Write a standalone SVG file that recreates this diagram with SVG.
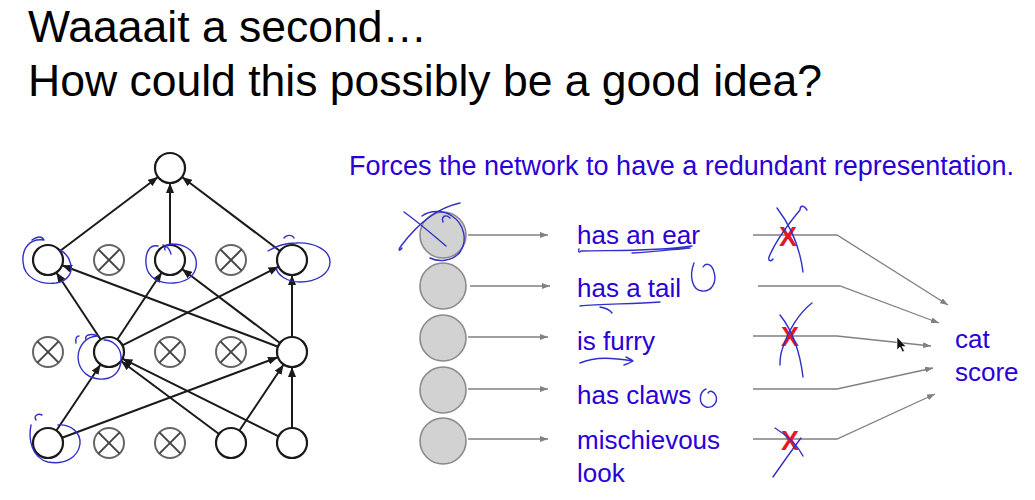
<svg xmlns="http://www.w3.org/2000/svg" width="1035" height="500" viewBox="0 0 1035 500">
  <defs>
    <marker id="netArrow" markerWidth="10" markerHeight="8" refX="10" refY="4" orient="auto" markerUnits="userSpaceOnUse">
      <path d="M0,0 L10,4 L0,8 Z" fill="#1a1a1a"/>
    </marker>
    <marker id="thinArrow" markerWidth="8" markerHeight="6" refX="8" refY="3" orient="auto" markerUnits="userSpaceOnUse">
      <path d="M0,0 L8,3 L0,6 Z" fill="#808080"/>
    </marker>
    <style>
      .title { font-family: "Liberation Sans", Arial, sans-serif; font-size: 44.5px; fill: #000; }
      .blue { font-family: "Liberation Sans", Arial, sans-serif; fill: #2a00d6; }
      .sub { font-size: 27px; }
      .lbl { font-size: 26px; }
      .unit { fill: #fff; stroke: #1a1a1a; stroke-width: 2.2; }
      .drop circle { fill: #fff; stroke: #666; stroke-width: 2; }
      .drop line { stroke: #444; stroke-width: 2; }
      .feat { fill: #d2d2d2; stroke: #8a8a8a; stroke-width: 1.6; }
      .edge { stroke: #1a1a1a; stroke-width: 2; fill: none; marker-end: url(#netArrow); }
      .thin { stroke: #808080; stroke-width: 1.3; fill: none; marker-end: url(#thinArrow); }
      .ink { stroke: #3030c8; stroke-width: 1.4; fill: none; stroke-linecap: round; stroke-linejoin: round; }
      .cross { font-family: "Liberation Sans", Arial, sans-serif; font-weight: bold; font-size: 27px; fill: #e8142a; text-anchor: middle; }
    </style>
  </defs>

  <!-- heading -->
  <text class="title" x="28" y="42">Waaaait a second…</text>
  <text class="title" x="28" y="96">How could this possibly be a good idea?</text>

  <!-- network connectors -->
  <g id="net-edges">
    <line class="edge" x1="60" y1="251" x2="158" y2="177"/>
    <line class="edge" x1="170" y1="245" x2="170" y2="183"/>
    <line class="edge" x1="280" y1="251" x2="182" y2="177"/>
    <line class="edge" x1="100.7" y1="339.5" x2="56.3" y2="272.5"/>
    <line class="edge" x1="278" y1="346.7" x2="62" y2="265.3"/>
    <line class="edge" x1="117.3" y1="339.5" x2="161.7" y2="272.5"/>
    <line class="edge" x1="280" y1="343" x2="182" y2="269"/>
    <line class="edge" x1="122.4" y1="345.3" x2="278.6" y2="266.7"/>
    <line class="edge" x1="292" y1="337" x2="292" y2="275"/>
    <line class="edge" x1="56.4" y1="430.5" x2="100.6" y2="364.5"/>
    <line class="edge" x1="219" y1="434" x2="121" y2="361"/>
    <line class="edge" x1="278.6" y1="436.3" x2="122.4" y2="358.7"/>
    <line class="edge" x1="62.1" y1="437.8" x2="277.9" y2="357.2"/>
    <line class="edge" x1="239.4" y1="430.5" x2="283.6" y2="364.5"/>
    <line class="edge" x1="292" y1="428" x2="292" y2="367"/>
  </g>

  <!-- network units -->
  <g id="out"><circle class="unit" cx="170" cy="168" r="15"/></g>
  <g id="h2-1"><circle class="unit" cx="48" cy="260" r="15"/></g>
  <g id="h2-2" class="drop"><circle cx="109" cy="260" r="15"/><line x1="98.4" y1="249.4" x2="119.6" y2="270.6"/><line x1="119.6" y1="249.4" x2="98.4" y2="270.6"/></g>
  <g id="h2-3"><circle class="unit" cx="170" cy="260" r="15"/></g>
  <g id="h2-4" class="drop"><circle cx="231" cy="260" r="15"/><line x1="220.4" y1="249.4" x2="241.6" y2="270.6"/><line x1="241.6" y1="249.4" x2="220.4" y2="270.6"/></g>
  <g id="h2-5"><circle class="unit" cx="292" cy="260" r="15"/></g>

  <g id="h1-1" class="drop"><circle cx="48" cy="352" r="15"/><line x1="37.4" y1="341.4" x2="58.6" y2="362.6"/><line x1="58.6" y1="341.4" x2="37.4" y2="362.6"/></g>
  <g id="h1-2"><circle class="unit" cx="109" cy="352" r="15"/></g>
  <g id="h1-3" class="drop"><circle cx="170" cy="352" r="15"/><line x1="159.4" y1="341.4" x2="180.6" y2="362.6"/><line x1="180.6" y1="341.4" x2="159.4" y2="362.6"/></g>
  <g id="h1-4" class="drop"><circle cx="231" cy="352" r="15"/><line x1="220.4" y1="341.4" x2="241.6" y2="362.6"/><line x1="241.6" y1="341.4" x2="220.4" y2="362.6"/></g>
  <g id="h1-5"><circle class="unit" cx="292" cy="352" r="15"/></g>

  <g id="in-1"><circle class="unit" cx="48" cy="443" r="15"/></g>
  <g id="in-2" class="drop"><circle cx="109" cy="443" r="15"/><line x1="98.4" y1="432.4" x2="119.6" y2="453.6"/><line x1="119.6" y1="432.4" x2="98.4" y2="453.6"/></g>
  <g id="in-3" class="drop"><circle cx="170" cy="443" r="15"/><line x1="159.4" y1="432.4" x2="180.6" y2="453.6"/><line x1="180.6" y1="432.4" x2="159.4" y2="453.6"/></g>
  <g id="in-4"><circle class="unit" cx="231" cy="443" r="15"/></g>
  <g id="in-5"><circle class="unit" cx="292" cy="443" r="15"/></g>

  <!-- pen marks around kept units -->
  <g id="pen-net">
    <path class="ink" d="M32,240 C38,236 42,236 44,240 C30,238 22,248 23,262 C24,278 40,285 56,283 C68,281 74,272 70,262 C68,255 64,252 60,250"/>
    <path class="ink" d="M158,246 C150,244 145,252 146,264 C147,278 160,284 174,283 C190,282 198,272 196,260 C194,250 184,244 172,244 C166,244 164,248 165,250 M163,245 C167,246 170,250 171,254"/>
    <path class="ink" d="M284,238 C286,235 292,234 294,238 M268,251 C276,246 286,243 296,243 C314,242 330,250 330,262 C330,274 316,282 300,282 C288,282 278,276 276,268"/>
    <path class="ink" d="M76,343 C75,338 77,336 79,336 M86,340 C84,335 90,333 98,336 C86,336 78,346 78,358 C79,372 90,380 104,379 C116,378 122,368 121,356 C120,346 112,340 104,340"/>
    <path class="ink" d="M36,420 C33,416 38,413 42,415 M31,425 C28,440 32,458 48,462 C64,465 78,458 80,444 C81,432 70,424 58,425"/>
  </g>

  <!-- subtitle -->
  <text class="blue sub" x="349" y="175">Forces the network to have a redundant representation.</text>

  <!-- feature units -->
  <g id="feat-1"><circle class="feat" cx="443" cy="235" r="23"/></g>
  <g id="feat-2"><circle class="feat" cx="443" cy="286" r="23"/></g>
  <g id="feat-3"><circle class="feat" cx="443" cy="338" r="23"/></g>
  <g id="feat-4"><circle class="feat" cx="443" cy="390" r="23"/></g>
  <g id="feat-5"><circle class="feat" cx="443" cy="441" r="23"/></g>

  <!-- feature labels -->
  <g id="lbl-ear"><text class="blue lbl" x="577" y="244">has an ear</text></g>
  <g id="lbl-tail"><text class="blue lbl" x="577" y="297">has a tail</text></g>
  <g id="lbl-furry"><text class="blue lbl" x="577" y="350">is furry</text></g>
  <g id="lbl-claws"><text class="blue lbl" x="577" y="404">has claws</text></g>
  <g id="lbl-look"><text class="blue lbl" x="577" y="449">mischievous</text><text class="blue lbl" x="577" y="482">look</text></g>
  <g id="score"><text class="blue lbl" x="955" y="348">cat</text><text class="blue lbl" x="955" y="381">score</text></g>

  <!-- feature connectors -->
  <g id="feat-edges">
    <line class="thin" x1="468" y1="235" x2="548" y2="235"/>
    <line class="thin" x1="470" y1="286" x2="550" y2="286"/>
    <line class="thin" x1="468" y1="337" x2="548" y2="337"/>
    <line class="thin" x1="468" y1="389" x2="548" y2="389"/>
    <line class="thin" x1="468" y1="439" x2="548" y2="439"/>
    <polyline class="thin" points="753,235 837,235 948,305"/>
    <polyline class="thin" points="758,286 840,286 939,323"/>
    <polyline class="thin" points="753,336 837,336 931,346"/>
    <polyline class="thin" points="753,389 837,389 933,368"/>
    <polyline class="thin" points="753,439 837,439 935,394"/>
  </g>

  <!-- dropped features -->
  <g id="drop-marks">
    <text class="cross" x="788" y="246">X</text>
    <text class="cross" x="790" y="346">X</text>
    <text class="cross" x="790" y="450">X</text>
  </g>

  <!-- pen marks on the feature side -->
  <g id="pen-feat">
    <path class="ink" d="M404,212 C418,222 432,234 446,246 M402,248 C399,252 398,250 401,246 C416,226 436,208 460,203 M422,216 C430,210 444,210 452,216 C464,224 468,240 460,252 C452,262 438,262 430,258 M443,222 C441,216 446,214 450,218"/>
    <path class="ink" d="M579,249 C578,252 579,253 581,251 C610,250 650,252 692,246 M632,253 C650,252 668,250 690,248"/>
    <path class="ink" d="M580,306 C600,304 630,304 660,302 M600,307 C606,308 610,310 612,313"/>
    <path class="ink" d="M694,263 C689,276 692,290 702,291 C712,292 717,282 714,272 C712,264 706,262 703,267"/>
    <path class="ink" d="M580,363 C596,356 614,358 633,361 M626,357 C630,359 632,360 633,361 C630,363 627,364 624,365"/>
    <path class="ink" d="M706,389 C699,392 698,404 706,407 C713,409 718,402 716,396 C714,391 710,390 708,393"/>
    <path class="ink" d="M777,208 C790,225 800,248 803,272 M807,210 C803,204 800,206 800,210 C790,222 776,240 769,257 C768,261 771,262 773,259"/>
    <path class="ink" d="M780,315 C792,330 800,352 803,377 M812,303 C800,312 788,330 782,350 C780,356 780,362 780,365"/>
    <path class="ink" d="M775,428 C788,436 798,446 803,456 M801,438 C792,450 782,464 773,477"/>
  </g>

  <!-- pointer -->
  <g id="pointer">
    <path d="M897,337 L897,350 L900,347 L902.5,352 L904.5,351 L902,346.5 L906,346.5 Z" fill="#111" stroke="#fff" stroke-width="0.6"/>
  </g>
</svg>
